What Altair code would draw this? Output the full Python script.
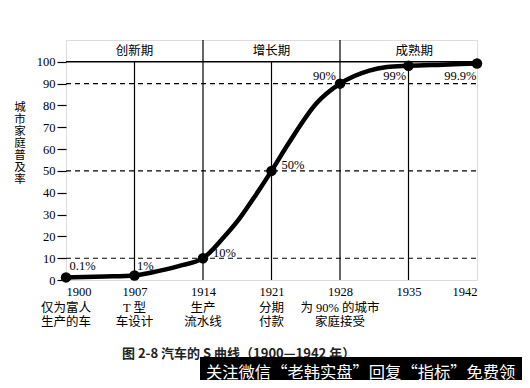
import altair as alt
import pandas as pd

# ---- data ----
YEARS = [1900, 1907, 1914, 1921, 1928, 1935, 1942]
DOT_VALUES = [1.2, 2.1, 10, 50, 90, 98.2, 99.2]
POINT_LABELS = ["0.1%", "1%", "10%", "50%", "90%", "99%", "99.9%"]
LABEL_X = [1901.7, 1908.1, 1916.2, 1923.2, 1926.4, 1933.6, 1940.3]
LABEL_Y = [6.5, 6.5, 12.5, 52.5, 93.5, 93.5, 93.5]

CURVE_YEARS = [1900, 1904, 1907, 1909.5, 1911.6, 1914, 1916, 1917.7, 1919.4,
               1921, 1922.8, 1925.6, 1928, 1931, 1932.8, 1935, 1938.5, 1942]
CURVE_VALUES = [1.2, 1.6, 2.1, 4.2, 6.5, 10, 19, 28, 39,
                50, 63, 81, 90, 96, 97.6, 98.2, 98.7, 99.2]

EVENTS_1 = ["仅为富人", "T 型", "生产", "分期", "为 90% 的城市", "", ""]
EVENTS_2 = ["生产的车", "车设计", "流水线", "付款", "家庭接受", "", ""]

PHASES = ["创新期", "增长期", "成熟期"]
PHASE_X = [1907, 1921, 1935.6]
PHASE_Y = [105, 105, 105]

VLINE_YEARS = [1907, 1914, 1921, 1928, 1935]
VLINE_BOTTOM = [0, 0, 0, 0, 0]
VLINE_TOP = [100, 110, 100, 110, 100]
DASH_LEVELS = [10, 50, 90]
TOP_LINE = [100]

Y_TICKS = [0, 10, 20, 30, 40, 50, 60, 70, 80, 90, 100]
Y_TITLE = "城市家庭普及率"
CAPTION = "图 2-8    汽车的 S 曲线（1900—1942 年）"
BANNER = "关注微信“老韩实盘”回复“指标”免费领"

SERIF = "Liberation Serif, Noto Sans CJK SC"
W, H = 411, 240

curve_df = pd.DataFrame({"year": CURVE_YEARS, "v": CURVE_VALUES})
dot_df = pd.DataFrame({"year": YEARS, "v": DOT_VALUES})
lab_df = pd.DataFrame({"year": LABEL_X, "v": LABEL_Y, "t": POINT_LABELS})
ev_df = pd.DataFrame({"year": YEARS, "a": EVENTS_1, "b": EVENTS_2})
ph_df = pd.DataFrame({"year": PHASE_X, "v": PHASE_Y, "t": PHASES})
vl_df = pd.DataFrame({"year": VLINE_YEARS, "v": VLINE_BOTTOM, "top": VLINE_TOP})
dash_df = pd.DataFrame({"v": DASH_LEVELS})
top_df = pd.DataFrame({"v": TOP_LINE})
one = pd.DataFrame({"a": [0]})


def xs():
    return alt.Scale(domain=[1900, 1942], nice=False, zero=False)


def ys():
    return alt.Scale(domain=[0, 110], nice=False, zero=False)


XE = alt.X("year:Q", scale=xs(), axis=None)
YE = alt.Y("v:Q", scale=ys(), axis=None)

base_x = alt.X("year:Q", scale=xs(), axis=alt.Axis(
    values=YEARS, format="d", title=None, domain=False, ticks=False, grid=False,
    labelFont=SERIF, labelFontSize=12.5, labelColor="black", labelPadding=5,
    labelOverlap=False))
base_y = alt.Y("v:Q", scale=ys(), axis=alt.Axis(
    values=Y_TICKS, tickCount=11, title=None, domain=False, grid=False, tickSize=9,
    tickColor="black", tickWidth=1.2, labelFont=SERIF, labelFontSize=12.5,
    labelColor="black", labelPadding=2, labelOverlap=False, orient="left"))

axes = alt.Chart(dot_df).mark_point(opacity=0).encode(x=base_x, y=base_y)

vlines = alt.Chart(vl_df).mark_rule(color="black", strokeWidth=1.2).encode(
    x=XE, y=YE, y2="top:Q")

hline100 = alt.Chart(top_df).mark_rule(color="black", strokeWidth=1.5).encode(
    x=alt.value(0), x2=alt.value(W), y=YE)

dashes = alt.Chart(dash_df).mark_rule(color="black", strokeWidth=1.1, strokeDash=[5, 4]).encode(
    x=alt.value(0), x2=alt.value(W), y=YE)

curve = alt.Chart(curve_df).mark_line(color="black", strokeWidth=4.5, interpolate="monotone").encode(
    x=XE, y=YE)

dots = alt.Chart(dot_df).mark_circle(color="black", size=110, opacity=1).encode(x=XE, y=YE)

plabels = alt.Chart(lab_df).mark_text(font=SERIF, fontSize=12.5, color="black").encode(
    x=XE, y=YE, text="t:N")

phases = alt.Chart(ph_df).mark_text(font=SERIF, fontSize=12.5, color="black").encode(
    x=XE, y=YE, text="t:N")

ev1 = alt.Chart(ev_df).mark_text(font=SERIF, fontSize=12.5, color="black").encode(
    x=XE, y=alt.value(268), text="a:N")
ev2 = alt.Chart(ev_df).mark_text(font=SERIF, fontSize=12.5, color="black").encode(
    x=XE, y=alt.value(282), text="b:N")

ytitle = alt.Chart(one).mark_text(font=SERIF, fontSize=11.5, color="black",
                                  lineBreak="\n", lineHeight=12, baseline="middle").encode(
    x=alt.value(-46), y=alt.value(68), text=alt.value("\n".join(Y_TITLE)))

caption = alt.Chart(one).mark_text(font="Noto Sans CJK SC", fontSize=13, fontWeight="bold",
                                   color="#222", align="left").encode(
    x=alt.value(56), y=alt.value(314), text=alt.value(CAPTION))

band = alt.Chart(one).mark_rect(color="black").encode(
    x=alt.value(134), x2=alt.value(470), y=alt.value(317), y2=alt.value(360))

banner = alt.Chart(one).mark_text(font="Noto Sans CJK SC", fontSize=16.3, color="white",
                                  align="left").encode(
    x=alt.value(140), y=alt.value(333), text=alt.value(BANNER))

chart = alt.layer(axes, vlines, hline100, dashes, curve, dots, plabels, phases,
                  ev1, ev2, ytitle, caption, band, banner).resolve_scale(
    x="independent", y="independent").resolve_axis(
    x="independent", y="independent").properties(
    width=W, height=H,
    autosize=alt.AutoSizeParams(type="none"),
    padding={"left": 58, "top": 32, "right": 45, "bottom": 100},
).configure_view(stroke="black", strokeWidth=1.5).configure(background="white")

chart.save("out.html", embed_options={"renderer": "svg", "actions": False})
